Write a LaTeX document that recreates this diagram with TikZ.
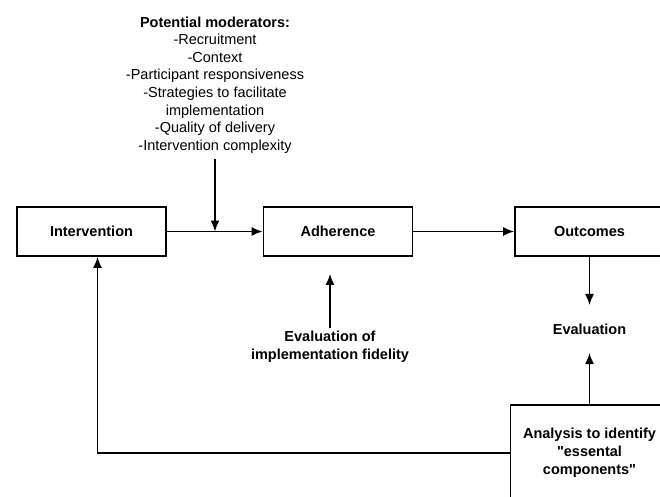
\documentclass[tikz,border=0pt]{standalone}
\usepackage{fontspec}
\setmainfont{Liberation Sans}[Ligatures=TeXOff]
\usetikzlibrary{arrows.meta}
\tikzstyle{arrow} = [-{Latex[length=11pt,width=9pt]}, line width=1.5pt]
\tikzstyle{box} = [draw, line width=1.8pt, minimum width=149pt, minimum height=49pt, font=\fontsize{14.5}{18}\selectfont\bfseries, align=center]
\tikzstyle{note} = [font=\fontsize{14.5}{17.6}\selectfont, align=center]
\tikzstyle{boldnote} = [font=\fontsize{14.5}{18}\selectfont\bfseries, align=center]

\begin{document}
\begin{tikzpicture}[x=1pt,y=-1pt]
        \useasboundingbox (0,0) rectangle (660,497);
        \clip (0,0) rectangle (660,497);
        \node[note] at (215,85) (mods) {\textbf{Potential moderators:}\\-Recruitment\\-Context\\-Participant responsiveness\\-Strategies to facilitate\\implementation\\-Quality of delivery\\-Intervention complexity};
        \node[box] at (91.5,231.5) (int) {Intervention};
        \node[box] at (338,231.5) (adh) {Adherence};
        \node[box] at (589.5,231.5) (out) {Outcomes};
        \node[boldnote, inner ysep=18.5pt] at (589.5,329) (eval) {Evaluation};
        \node[boldnote] at (330,347) (fid) {Evaluation of\\implementation fidelity};
        \node[box, minimum width=158pt, minimum height=96pt] at (589.5,453) (anl) {Analysis to identify\\"essental\\components"};
        \coordinate (join) at (215,231.5);

        \draw[arrow] (int) -- (adh);
        \draw[arrow, shorten <=2pt] (mods.south) -- (join);
        \draw[arrow] (adh) -- (out);
        \draw[arrow] (out) -- (eval);
        \draw[arrow, shorten >=17pt] (fid.north) -- (fid.north |- adh.south);
        \draw[arrow] (anl.north) -- (eval.south);
        \draw[arrow] (anl.west) -| ([xshift=6pt]int.south);
\end{tikzpicture}
\end{document}
